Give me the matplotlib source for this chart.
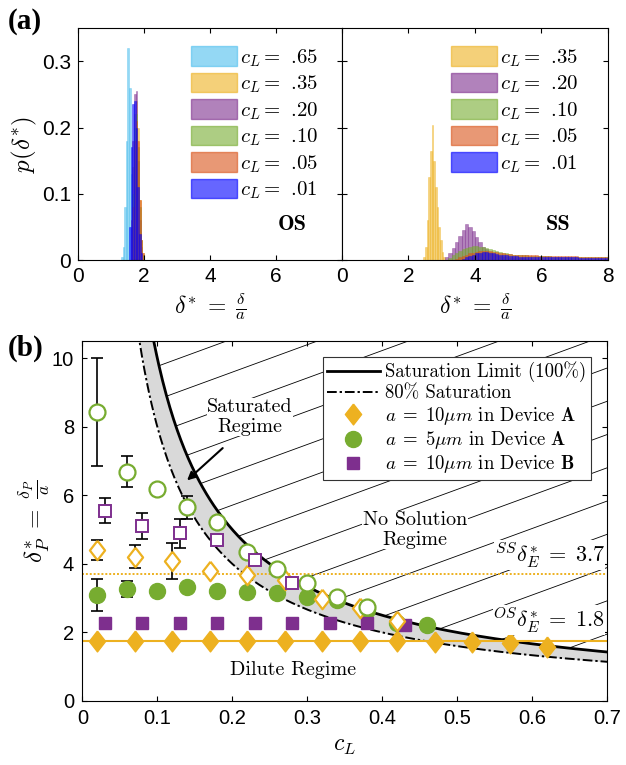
import numpy as np
import matplotlib
matplotlib.use('Agg')
import matplotlib.pyplot as plt
from matplotlib.patches import Patch, Polygon
from matplotlib.lines import Line2D

plt.rcParams['mathtext.fontset'] = 'cm'
plt.rcParams['font.family'] = 'Liberation Sans'
plt.rcParams['xtick.direction'] = 'in'
plt.rcParams['ytick.direction'] = 'in'
plt.rcParams['xtick.top'] = True
plt.rcParams['ytick.right'] = True
plt.rcParams['axes.linewidth'] = 0.8
plt.rcParams['xtick.major.size'] = 3.5
plt.rcParams['ytick.major.size'] = 3.5

# ---------------- data (a): histograms p(delta*) ----------------
hist_colors = {'.65': '#4DBEEE', '.35': '#EDB120', '.20': '#7E2F8E',
               '.10': '#77AC30', '.05': '#D95319', '.01': '#0000FF'}

# OS panel, bin width 0.05, (start, heights)
os_bw = 0.05
os_65 = (1.30, [0.005, 0.02, 0.08, 0.18, 0.32, 0.26, 0.13, 0.05, 0.015, 0.004])
os_35 = (1.60, [0.04, 0.14, 0.22, 0.24, 0.20, 0.09, 0.03, 0.01])
os_20 = (1.60, [0.06, 0.18, 0.25, 0.255, 0.15, 0.06, 0.02])
os_10 = (1.65, [0.10, 0.20, 0.22, 0.17, 0.08, 0.03, 0.008])
os_05 = (1.65, [0.08, 0.18, 0.21, 0.18, 0.09, 0.03, 0.01])
os_01 = (1.55, [0.05, 0.17, 0.235, 0.24, 0.20, 0.11, 0.04, 0.01])

# SS panel
ss_35_bw = 0.05
ss_35 = (2.45, [0.004, 0.02, 0.06, 0.125, 0.165, 0.204, 0.15, 0.11, 0.08, 0.05,
                0.03, 0.012, 0.004])
ss_bw = 0.1
ss_20 = (3.1, [0.004, 0.010, 0.018, 0.028, 0.036, 0.045, 0.055, 0.050, 0.044, 0.035,
               0.027, 0.020, 0.016, 0.012, 0.009, 0.007, 0.006, 0.005, 0.004, 0.003,
               0.003, 0.003, 0.003, 0.003, 0.002, 0.002, 0.002, 0.002, 0.002, 0.002])
ss_10 = (3.2, [0.003, 0.007, 0.011, 0.014, 0.017, 0.019, 0.020, 0.021, 0.021, 0.020,
               0.020, 0.019, 0.017, 0.015, 0.013, 0.012, 0.011, 0.010, 0.009, 0.008,
               0.007, 0.007, 0.007, 0.007, 0.006, 0.006, 0.006, 0.006, 0.006, 0.006,
               0.006, 0.005, 0.005, 0.005, 0.005, 0.005, 0.005, 0.005, 0.005, 0.005,
               0.004, 0.004, 0.004, 0.004, 0.004, 0.004, 0.004, 0.004])
ss_05 = (3.4, [0.002, 0.004, 0.006, 0.008, 0.010, 0.011, 0.012, 0.013, 0.013, 0.014,
               0.013, 0.012, 0.012, 0.011, 0.010, 0.009, 0.009, 0.008, 0.008, 0.008,
               0.007, 0.007, 0.007, 0.007, 0.007, 0.006, 0.006, 0.006, 0.006, 0.006,
               0.006, 0.006, 0.006, 0.006, 0.006, 0.006, 0.006, 0.005, 0.005, 0.005,
               0.005, 0.005, 0.005, 0.005, 0.005, 0.005])
ss_01 = (3.6, [0.002, 0.004, 0.006, 0.008, 0.010, 0.011, 0.012, 0.012, 0.011, 0.010,
               0.009, 0.008, 0.007, 0.007, 0.006, 0.006, 0.006, 0.005, 0.005, 0.005,
               0.005, 0.005, 0.005, 0.005, 0.004, 0.004, 0.004, 0.004, 0.004, 0.004,
               0.004, 0.004, 0.004, 0.004, 0.004, 0.003, 0.003, 0.003, 0.003, 0.003,
               0.003, 0.003, 0.003, 0.003])

# ---------------- data (b) ----------------
sat_limit = 1.0      # delta_P* = sat_limit / c_L
sat_80 = 0.8
os_level = 1.75
ss_level = 3.7

# a = 10um Device A (diamonds)
dA10_os_x = [0.02, 0.07, 0.12, 0.17, 0.22, 0.27, 0.32, 0.37, 0.42, 0.47, 0.52, 0.57, 0.62]
dA10_os_y = [1.74, 1.74, 1.74, 1.74, 1.74, 1.74, 1.74, 1.74, 1.74, 1.73, 1.73, 1.70, 1.57]
dA10_ss_x = [0.02, 0.07, 0.12, 0.17, 0.22, 0.27, 0.32, 0.37, 0.42]
dA10_ss_y = [4.40, 4.21, 4.09, 3.80, 3.68, 3.52, 2.97, 2.72, 2.33]
dA10_ss_e = [0.29, 0.33, 0.52, 0, 0, 0, 0, 0, 0]
# a = 5um Device A (circles)
dA5_os_x = [0.02, 0.06, 0.10, 0.14, 0.18, 0.22, 0.26, 0.30, 0.34, 0.38, 0.42, 0.46]
dA5_os_y = [3.09, 3.26, 3.22, 3.31, 3.22, 3.17, 3.14, 3.04, 2.94, 2.65, 2.26, 2.22]
dA5_os_e = [0.46, 0.23, 0, 0, 0, 0, 0, 0, 0, 0, 0, 0]
dA5_ss_x = [0.02, 0.06, 0.10, 0.14, 0.18, 0.22, 0.26, 0.30, 0.34, 0.38]
dA5_ss_y = [8.43, 6.69, 6.18, 5.65, 5.21, 4.34, 3.84, 3.45, 3.02, 2.75]
dA5_ss_e = [1.57, 0.45, 0, 0.33, 0, 0, 0, 0, 0, 0]
# a = 10um Device B (squares)
dB10_os_x = [0.03, 0.08, 0.13, 0.18, 0.23, 0.28, 0.33, 0.38, 0.43]
dB10_os_y = [2.28, 2.28, 2.28, 2.28, 2.28, 2.28, 2.26, 2.26, 2.22]
dB10_ss_x = [0.03, 0.08, 0.13, 0.18, 0.23, 0.28]
dB10_ss_y = [5.55, 5.11, 4.89, 4.69, 4.11, 3.45]
dB10_ss_e = [0.36, 0.38, 0.43, 0, 0, 0]

orange = '#EDB120'
green = '#77AC30'
purple = '#7E2F8E'

fig = plt.figure(figsize=(6.26, 7.65), dpi=100)
ax1 = fig.add_axes([0.1246, 0.660, 0.4217, 0.3033])
ax2 = fig.add_axes([0.5463, 0.660, 0.4249, 0.3033])
ax3 = fig.add_axes([0.1315, 0.0837, 0.8383, 0.4706])


def draw_hist(ax, series, bw, key):
    start, h = series
    x = start + bw * np.arange(len(h))
    ax.bar(x, h, width=bw, align='edge', color=hist_colors[key], alpha=0.6,
           edgecolor=hist_colors[key], linewidth=0.4)


for key, s in [('.65', os_65), ('.35', os_35), ('.20', os_20), ('.10', os_10),
               ('.05', os_05), ('.01', os_01)]:
    draw_hist(ax1, s, os_bw, key)
draw_hist(ax2, ss_35, ss_35_bw, '.35')
for key, s in [('.20', ss_20), ('.10', ss_10), ('.05', ss_05), ('.01', ss_01)]:
    draw_hist(ax2, s, ss_bw, key)

for ax in (ax1, ax2):
    ax.set_xlim(0, 8)
    ax.set_ylim(0, 0.35)
    ax.set_yticks([0, 0.1, 0.2, 0.3])
    ax.tick_params(labelsize=15, pad=5)
    ax.set_xlabel(r'$\delta^{*}\;=\;\frac{\delta}{a}$', fontsize=17, labelpad=3)
ax1.set_xticks([0, 2, 4, 6])
ax1.set_yticklabels(['0', '0.1', '0.2', '0.3'])
ax2.set_xticks([0, 2, 4, 6, 8])
ax2.set_yticklabels([])
ax1.set_ylabel(r'$p(\delta^{*})$', fontsize=18, labelpad=2)

lab = lambda k: r'$c_L =$ %s' % k
lprop = {'family': 'cmr10', 'size': 15}
h_os = [Patch(facecolor=hist_colors[k], edgecolor=hist_colors[k], alpha=0.6)
        for k in ['.65', '.35', '.20', '.10', '.05', '.01']]
ax1.legend(h_os, [lab(k) for k in ['.65', '.35', '.20', '.10', '.05', '.01']],
           loc='upper right', bbox_to_anchor=(0.96, 0.975), frameon=False, prop=lprop,
           handlelength=2.2, handleheight=1.05, labelspacing=0.2, handletextpad=0.15,
           borderpad=0.1)
h_ss = [Patch(facecolor=hist_colors[k], edgecolor=hist_colors[k], alpha=0.6)
        for k in ['.35', '.20', '.10', '.05', '.01']]
ax2.legend(h_ss, [lab(k) for k in ['.35', '.20', '.10', '.05', '.01']],
           loc='upper right', bbox_to_anchor=(0.935, 0.975), frameon=False, prop=lprop,
           handlelength=2.2, handleheight=1.05, labelspacing=0.2, handletextpad=0.15,
           borderpad=0.1)
ax1.text(6.5, 0.053, 'OS', family='cmb10', fontsize=16, ha='center', va='center')
ax2.text(6.5, 0.053, 'SS', family='cmb10', fontsize=16, ha='center', va='center')

# ---------------- panel (b) ----------------
ax3.set_xlim(0, 0.7)
ax3.set_ylim(0, 10.5)
c = np.linspace(0.05, 0.7, 400)
top = 10.5

# hatched "no solution" region above the saturation limit
cs = c[sat_limit / c <= top]
verts = np.column_stack([np.r_[cs, 0.7, cs[0]], np.r_[sat_limit / cs, top, top]])
clip = Polygon(verts, closed=True, facecolor='none', edgecolor='none',
               transform=ax3.transData)
ax3.add_patch(clip)
slope = 8.0
for k in range(-1, 16):
    y_end = 1.95 + 0.97 * k
    xx = np.array([0.0, 0.7])
    ln, = ax3.plot(xx, y_end + slope * (xx - 0.7), color='black', lw=0.6, zorder=1)
    ln.set_clip_path(clip)

c80 = c[sat_80 / c <= top + 1]
ax3.fill_between(c80, sat_80 / c80, np.minimum(sat_limit / c80, top + 1),
                 color='#D9D9D9', zorder=1.5, lw=0)
ax3.plot(c, sat_limit / c, color='black', lw=2.0, zorder=2)
ax3.plot(c, sat_80 / c, color='black', lw=1.4, ls=(0, (5, 1.5, 1.2, 1.5)), zorder=2)

ax3.axhline(os_level, color=orange, lw=1.5, zorder=2.5)
ax3.axhline(ss_level, color=orange, lw=1.4, ls=(0, (1, 1)), zorder=2.5)

dia = [(0, 1), (0.78, 0), (0, -1), (-0.78, 0), (0, 1)]
ekw = dict(ecolor='black', elinewidth=1.2, capsize=4, capthick=1.2, zorder=3)


def errs(x, y, e, **kw):
    e = np.array(e)
    m = e > 0
    if m.any():
        ax3.errorbar(np.array(x)[m], np.array(y)[m], yerr=e[m], fmt='none', **ekw)
    ax3.plot(x, y, ls='none', zorder=4, **kw)


ax3.plot(dA10_os_x, dA10_os_y, ls='none', marker=dia, ms=15, color=orange, mec=orange, zorder=4)
errs(dA5_os_x, dA5_os_y, dA5_os_e, marker='o', ms=11.5, color=green, mec=green)
ax3.plot(dB10_os_x, dB10_os_y, ls='none', marker='s', ms=8.5, color=purple, mec=purple, zorder=4)
errs(dA10_ss_x, dA10_ss_y, dA10_ss_e, marker=dia, ms=14, mfc='white', mec=orange, mew=1.6)
errs(dA5_ss_x, dA5_ss_y, dA5_ss_e, marker='o', ms=11.5, mfc='white', mec=green, mew=1.6)
errs(dB10_ss_x, dB10_ss_y, dB10_ss_e, marker='s', ms=8.5, mfc='white', mec=purple, mew=1.4)

ax3.set_xticks(np.arange(0, 0.71, 0.1))
ax3.set_xticklabels(['0', '0.1', '0.2', '0.3', '0.4', '0.5', '0.6', '0.7'])
ax3.set_yticks([0, 2, 4, 6, 8, 10])
ax3.tick_params(labelsize=14.5, pad=6)
ax3.set_xlabel(r'$c_L$', fontsize=17, labelpad=5)
ax3.set_ylabel(r'$\delta_P^{*}\;=\;\frac{\delta_P}{a}$', fontsize=18, labelpad=0)

tkw = dict(family='cmr10', fontsize=14.5, ha='center', va='center', zorder=5)
ax3.text(0.2236, 8.28, 'Saturated\nRegime', linespacing=1.1,
         bbox=dict(facecolor='white', edgecolor='none', pad=0.5), **tkw)
ax3.annotate('', xy=(0.137, 6.38), xytext=(0.19, 7.43),
             arrowprops=dict(arrowstyle='-|>', color='black', lw=1.5, mutation_scale=12),
             zorder=5)
ax3.text(0.444, 4.99, 'No Solution\nRegime', linespacing=1.1,
         bbox=dict(facecolor='white', edgecolor='none', pad=0.5), **tkw)
ax3.text(0.281, 0.9, 'Dilute Regime', **tkw)
ax3.text(0.697, 4.25, r'$^{SS}\delta_E^{*}\;=\;3.7$', fontsize=16, ha='right', va='center',
         bbox=dict(facecolor='white', edgecolor='none', pad=0.3), zorder=5)
ax3.text(0.697, 2.36, r'$^{OS}\delta_E^{*}\;=\;1.8$', fontsize=16, ha='right', va='center',
         bbox=dict(facecolor='white', edgecolor='none', pad=0.3), zorder=5)

leg_h = [Line2D([], [], color='black', lw=2.0),
         Line2D([], [], color='black', lw=1.4, ls=(0, (5, 1.5, 1.2, 1.5))),
         Line2D([], [], ls='none', marker=dia, ms=15, color=orange),
         Line2D([], [], ls='none', marker='o', ms=11.5, color=green),
         Line2D([], [], ls='none', marker='s', ms=8.5, color=purple)]
leg_l = ['Saturation Limit (100%)', '80% Saturation',
         r'$a\;=\;10\mu m$ in Device $\mathbf{A}$',
         r'$a\;=\;5\mu m$ in Device $\mathbf{A}$',
         r'$a\;=\;10\mu m$ in Device $\mathbf{B}$']
leg = ax3.legend(leg_h, leg_l, loc='upper right', bbox_to_anchor=(0.977, 0.966),
                 prop={'family': 'cmr10', 'size': 13.5}, handlelength=2.8,
                 fancybox=False, edgecolor='#333333', framealpha=1,
                 labelspacing=0.12, handletextpad=0.3, borderpad=0.25,
                 borderaxespad=0.2)
leg.get_frame().set_linewidth(0.8)
leg.set_zorder(6)

fig.text(0.012, 0.972, '(a)', family='Liberation Serif', weight='bold', fontsize=21,
         ha='left', va='center')
fig.text(0.012, 0.545, '(b)', family='Liberation Serif', weight='bold', fontsize=21,
         ha='left', va='center')

fig.savefig('out.png', dpi=100)
